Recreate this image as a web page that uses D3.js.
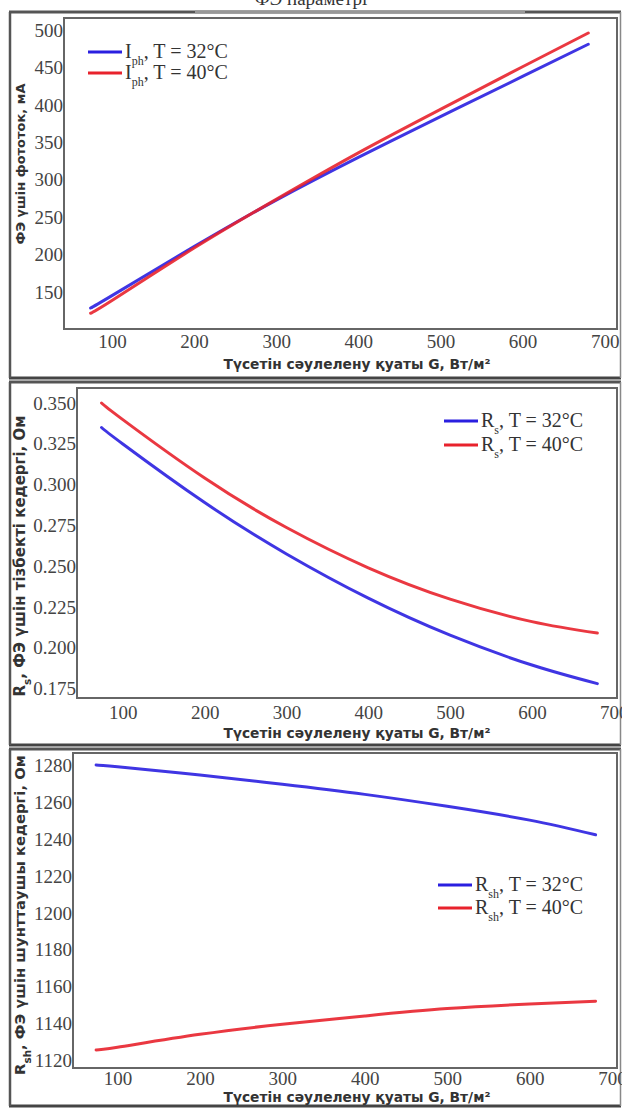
<!DOCTYPE html>
<html>
<head>
<meta charset="utf-8">
<script src="https://cdn.jsdelivr.net/npm/d3@7/dist/d3.min.js"></script>
<style>
  html, body { margin: 0; padding: 0; background: #fff; }
  svg { display: block; }
</style>
</head>
<body>
<svg id="chart" width="622" height="1108"></svg>
<script>
// Irradiance points (W/m²) shared by all three panels
const irradiance = [74, 100, 200, 300, 400, 500, 600, 680];

// Photocurrent, mA
const iph32 = [129, 145.5, 211, 273, 330, 384.5, 438, 481];
const iph40 = [122, 139, 209, 274, 336, 394, 451, 496];

// Series resistance, Ohm
const rs32 = [0.335, 0.3249, 0.289, 0.2575, 0.2304, 0.2077, 0.1894, 0.178];
const rs40 = [0.350, 0.3398, 0.304, 0.2737, 0.2490, 0.2298, 0.2160, 0.209];

// Shunt resistance, Ohm
const rsh32 = [1280.5, 1279.5, 1275, 1270, 1264.5, 1258, 1250.5, 1242.5];
const rsh40 = [1125.5, 1127, 1134, 1139.5, 1144, 1148, 1150.5, 1152];

// Tick labels
const xTicks = [100, 200, 300, 400, 500, 600, 700];
const iphTicks = [150, 200, 250, 300, 350, 400, 450, 500];
const rsTicks = [0.175, 0.200, 0.225, 0.250, 0.275, 0.300, 0.325, 0.350];
const rshTicks = [1120, 1140, 1160, 1180, 1200, 1220, 1240, 1260, 1280];

const BLUE = "#2a1fe0";
const RED = "#e8222c";
const SERIF = "'Liberation Serif', 'Times New Roman', serif";
const SANS = "'DejaVu Sans', Verdana, sans-serif";
const svg = d3.select("#chart");

// Caption line above the first panel (runs off the top edge)
svg.append("text")
  .attr("x", 311).attr("y", 5)
  .attr("text-anchor", "middle")
  .style("font-family", SERIF)
  .style("font-size", "19px").attr("fill", "#333")
  .text("ФЭ параметрі");

const panels = [
  {
    frame: { top: 12, bottom: 378 },
    plot: { left: 64, top: 18, right: 617, bottom: 329 },
    xDomain: [41.6, 715], yDomain: [101, 516],
    yTicks: iphTicks, yFmt: d3.format("d"),
    series: [iph32, iph40],
    xPad: 6,
    yTitle: { sym: "", sub: "", rest: "ФЭ үшін фототок, мА", size: 13, cy: 164 },
    xTitleY: 369,
    legend: { x: 88, y: 52, gap: 21, size: 20, sym: "I", sub: "ph" }
  },
  {
    frame: { top: 382, bottom: 745 },
    plot: { left: 77, top: 388, right: 617, bottom: 698 },
    xDomain: [44, 704], yDomain: [0.1692, 0.3592],
    yTicks: rsTicks, yFmt: d3.format(".3f"),
    series: [rs32, rs40],
    xPad: 8,
    yTitle: { sym: "R", sub: "s", rest: ", ФЭ үшін тізбекті кедергі, Ом", size: 15, cy: 556 },
    xTitleY: 738,
    legend: { x: 444, y: 421, gap: 24, size: 20, sym: "R", sub: "s" }
  },
  {
    frame: { top: 749, bottom: 1106 },
    plot: { left: 73, top: 753, right: 617, bottom: 1068 },
    xDomain: [46, 706], yDomain: [1115.7, 1287],
    yTicks: rshTicks, yFmt: d3.format("d"),
    series: [rsh32, rsh40],
    xPad: 4,
    yTitle: { sym: "R", sub: "sh", rest: ", ФЭ үшін шунттаушы кедергі, Ом", size: 14.8, cy: 915 },
    xTitleY: 1102,
    legend: { x: 438, y: 885, gap: 23, size: 20, sym: "R", sub: "sh" }
  }
];

panels.forEach((p, pi) => {
  const g = svg.append("g");
  const f = p.frame, pl = p.plot;

  // Outer panel frame
  g.append("line").attr("x1", 9).attr("x2", 621).attr("y1", f.top).attr("y2", f.top)
    .attr("stroke", "#555").attr("stroke-width", 3);
  if (pi === 0) {
    // lighter middle stretch of the very top rule
    g.append("line").attr("x1", 195).attr("x2", 525).attr("y1", f.top).attr("y2", f.top)
      .attr("stroke", "#999").attr("stroke-width", 3);
  }
  g.append("line").attr("x1", 9).attr("x2", 621).attr("y1", f.bottom).attr("y2", f.bottom)
    .attr("stroke", "#444").attr("stroke-width", 3);
  g.append("line").attr("x1", 10).attr("x2", 10).attr("y1", f.top).attr("y2", f.bottom)
    .attr("stroke", "#555").attr("stroke-width", 2.5);
  g.append("line").attr("x1", 620.5).attr("x2", 620.5).attr("y1", f.top).attr("y2", f.bottom)
    .attr("stroke", "#888").attr("stroke-width", 1.5);

  const x = d3.scaleLinear().domain(p.xDomain).range([pl.left, pl.right]);
  const y = d3.scaleLinear().domain(p.yDomain).range([pl.bottom, pl.top]);

  // Plot box
  g.append("rect")
    .attr("x", pl.left).attr("y", pl.top)
    .attr("width", pl.right - pl.left).attr("height", pl.bottom - pl.top)
    .attr("fill", "#fff").attr("stroke", "#666").attr("stroke-width", 2);

  // Axes (labels only, no tick marks)
  const xAxis = g.append("g")
    .attr("transform", `translate(0,${pl.bottom})`)
    .call(d3.axisBottom(x).tickValues(xTicks).tickSize(0).tickPadding(p.xPad));
  xAxis.select(".domain").remove();
  xAxis.selectAll("text")
    .style("font-family", SERIF)
    .style("font-size", "19px").attr("fill", "#444");

  const yAxis = g.append("g")
    .attr("transform", `translate(${pl.left},0)`)
    .call(d3.axisLeft(y).tickValues(p.yTicks).tickFormat(p.yFmt).tickSize(0).tickPadding(1));
  yAxis.select(".domain").remove();
  yAxis.selectAll("text")
    .style("font-family", SERIF)
    .style("font-size", "19px").attr("fill", "#444");

  // Curves
  const line = d3.line()
    .x((d, i) => x(irradiance[i]))
    .y(d => y(d))
    .curve(d3.curveNatural);
  [BLUE, RED].forEach((c, k) => {
    g.append("path")
      .datum(p.series[k])
      .attr("d", line)
      .attr("fill", "none")
      .attr("stroke", c)
      .attr("stroke-width", 3)
      .attr("stroke-linecap", "round")
      .attr("opacity", 0.9);
  });

  // Axis titles
  g.append("text")
    .attr("x", 357).attr("y", p.xTitleY)
    .attr("text-anchor", "middle")
    .style("font-family", SANS)
    .style("font-weight", "bold").style("font-size", "13.8px").attr("fill", "#333")
    .text("Түсетін сәулелену қуаты G, Вт/м²");

  const yt = g.append("text")
    .attr("transform", `translate(25,${p.yTitle.cy}) rotate(-90)`)
    .attr("text-anchor", "middle")
    .style("font-family", SANS)
    .style("font-weight", "bold").style("font-size", p.yTitle.size + "px").attr("fill", "#333");
  if (p.yTitle.sym) {
    yt.append("tspan").text(p.yTitle.sym);
    yt.append("tspan").attr("baseline-shift", "sub")
      .style("font-size", (p.yTitle.size * 0.7) + "px").text(p.yTitle.sub);
  }
  yt.append("tspan").text(p.yTitle.rest);

  // Legend
  const L = p.legend;
  ["32", "40"].forEach((t, k) => {
    const ly = L.y + k * L.gap;
    g.append("line")
      .attr("x1", L.x).attr("x2", L.x + 34)
      .attr("y1", ly).attr("y2", ly)
      .attr("stroke", k === 0 ? BLUE : RED).attr("stroke-width", 3);
    const tx = g.append("text")
      .attr("x", L.x + 37).attr("y", ly + 6)
      .style("font-family", SERIF)
      .style("font-size", L.size + "px").attr("fill", "#333");
    tx.append("tspan").text(L.sym);
    tx.append("tspan").attr("baseline-shift", "sub")
      .style("font-size", Math.round(L.size * 0.62) + "px").text(L.sub);
    tx.append("tspan").attr("baseline-shift", "0").text(`, T = ${t}°C`);
  });
});
</script>
</body>
</html>
